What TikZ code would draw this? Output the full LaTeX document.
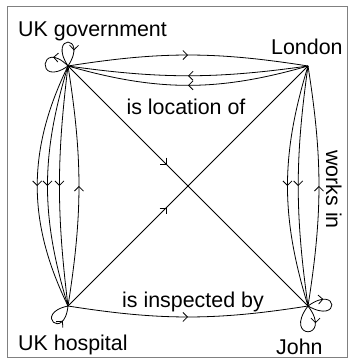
\documentclass[tikz,border=0pt]{standalone}
\usepackage{fontspec}
\setmainfont{Liberation Sans}
\usetikzlibrary{arrows.meta,decorations.markings,positioning}
\tikzset{
  rel/.style={draw, line width=0.8pt, postaction={decorate},
    decoration={markings, mark=at position #1 with {\arrow{Straight Barb[length=4.5pt,width=9pt]}}}},
  rel/.default=0.5,
  lbl/.style={font=\fontsize{21.4}{25}\selectfont, inner sep=0pt},
}
\begin{document}
\begin{tikzpicture}[x=1pt, y=1pt, node distance=240pt]
  \useasboundingbox (0,0) rectangle (354,362);
  \draw[gray, line width=1pt] (7,4) rectangle (347,355);
  % the four things
  \coordinate (gov) at (68,296);
  \coordinate [right=of gov] (lon);
  \coordinate [below=of gov] (hosp);
  \coordinate [right=of hosp] (john);

  \node (govtxt) [lbl, anchor=base west] at (18,325) {UK government};
  \node (lontxt) [lbl, anchor=base west] at (271,307) {London};
  \node (hosptxt) [lbl, anchor=base west] at (18,12) {UK hospital};
  \node (johntxt) [lbl, anchor=base west] at (276,8) {John};

  % is location of
  \draw[rel] (gov) to[bend left=9] (lon);
  \draw[rel] (lon) to[bend left=8] (gov);
  \draw[rel] (lon) to[bend left=16] (gov);
  \node (loctxt) [lbl, anchor=base] at (186,247) {is location of};

  % works in
  \draw[rel] (lon) to[bend right=17] (john);
  \draw[rel] (lon) to[bend right=8] (john);
  \draw[rel] (john) to[bend right=9] (lon);
  \node (worktxt) [lbl, anchor=base west, rotate=-90] at (326,212) {works in};

  % left side
  \draw[rel] (gov) to[bend right=26] (hosp);
  \draw[rel] (gov) to[bend right=17] (hosp);
  \draw[rel] (gov) to[bend right=7] (hosp);
  \draw[rel] (hosp) to[bend right=9] (gov);

  % is inspected by
  \draw[rel] (hosp) to[bend right=9] (john);
  \node (insptxt) [lbl, anchor=base west] at (122,54) {is inspected by};

  % diagonals
  \draw[rel=0.41] (gov) -- (john);
  \draw[rel=0.41] (hosp) -- (lon);

  % loops
  \draw[rel=0.7] (gov) to[out=123,in=57,min distance=38pt] (gov);
  \draw[rel=0.3] (gov) to[out=135,in=215,min distance=40pt] (gov);
  \draw[rel=0.7] (hosp) to[out=192,in=264,min distance=36pt] (hosp);
  \draw[rel=0.3] (john) to[out=36,in=-30,min distance=38pt] (john);
  \draw[rel=0.3] (john) to[out=-53,in=-127,min distance=43pt] (john);
\end{tikzpicture}
\end{document}
